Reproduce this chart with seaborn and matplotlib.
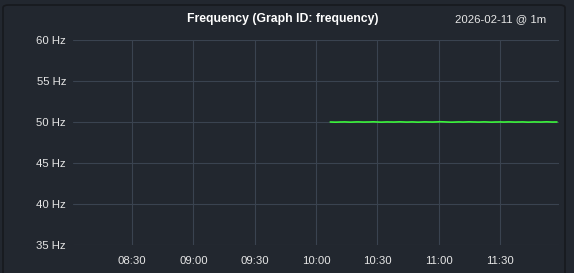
import matplotlib
matplotlib.use("Agg")
import matplotlib.pyplot as plt
from matplotlib.patches import FancyBboxPatch
import seaborn as sns
import pandas as pd

title = "Frequency (Graph ID: frequency)"
stamp = "2026-02-11 @ 1m"
y_ticks = [35, 40, 45, 50, 55, 60]
y_labels = ["35 Hz", "40 Hz", "45 Hz", "50 Hz", "55 Hz", "60 Hz"]
x_tick_labels = ["08:30", "09:00", "09:30", "10:00", "10:30", "11:00", "11:30"]
start_time = "2026-02-11 10:07"
freq_hz = [
    50.00, 49.99, 49.98, 49.98, 49.99, 50.00, 50.00, 50.01, 50.00, 49.99,
    49.98, 49.99, 50.00, 50.01, 50.01, 50.00, 49.99, 49.99, 50.00, 50.00,
    50.01, 50.02, 50.01, 50.00, 49.99, 49.98, 49.99, 50.00, 50.01, 50.00,
    50.00, 49.99, 50.00, 50.01, 50.02, 50.01, 50.00, 49.99, 49.99, 50.00,
    50.01, 50.00, 49.99, 49.98, 49.99, 50.00, 50.01, 50.01, 50.00, 50.00,
    49.99, 50.00, 50.01, 50.02, 50.03, 50.02, 50.01, 50.00, 49.99, 49.98,
    49.98, 49.99, 50.00, 50.01, 50.00, 49.99, 50.00, 50.01, 50.02, 50.01,
    50.00, 50.00, 49.99, 49.99, 50.00, 50.01, 50.01, 50.00, 49.99, 49.98,
    49.99, 50.00, 50.00, 50.01, 50.00, 49.99, 50.00, 50.01, 50.01, 50.00,
    49.99, 49.99, 50.00, 50.00, 50.01, 50.00, 49.99, 49.98, 49.99, 50.00,
    50.01, 50.00, 50.00, 49.99, 50.00, 50.01, 50.02, 50.01, 50.00, 49.99,
    50.00, 50.00,
]

df = pd.DataFrame({
    "time": pd.date_range(start_time, periods=len(freq_hz), freq="1min"),
    "hz": freq_hz,
})

bg = "#22272f"
grid_c = "#3a4350"
text_c = "#e6e6e6"

sns.set_theme(style="dark")
plt.rcParams["font.family"] = ["Liberation Sans", "DejaVu Sans"]

fig = plt.figure(figsize=(5.74, 2.73), dpi=100, facecolor=bg)
border = FancyBboxPatch((3 / 574, -0.05), 562 / 574, 1.05 - 5 / 273,
                        boxstyle="round,pad=0,rounding_size=0.01",
                        transform=fig.transFigure, facecolor="none",
                        edgecolor="#17191d", linewidth=1.2, zorder=-5)
fig.patches.append(border)

ax = fig.add_axes([73 / 574, 1 - 245 / 273, (559 - 73) / 574, (245 - 40) / 273])
ax.set_facecolor("none")

sns.lineplot(data=df, x="time", y="hz", ax=ax, color="#3cf53c", linewidth=1.2)

ax.set_ylim(35, 60)
ax.set_xlim(pd.Timestamp("2026-02-11 08:01"), pd.Timestamp("2026-02-11 11:59"))
ax.set_yticks(y_ticks)
ax.set_yticklabels(y_labels)
xt = [pd.Timestamp("2026-02-11 " + s) for s in x_tick_labels]
ax.set_xticks(xt)
ax.set_xticklabels(x_tick_labels)
ax.set_xlabel("")
ax.set_ylabel("")
for s in ax.spines.values():
    s.set_visible(False)
ax.grid(True, color=grid_c, linewidth=0.8)
ax.tick_params(axis="both", colors=text_c, labelsize=8.2, length=0)
ax.tick_params(axis="y", pad=5)
ax.tick_params(axis="x", pad=8)

fig.text(283 / 574, 1 - 19 / 273, title, color="white", fontsize=8.8,
         fontweight="bold", ha="center", va="center")
fig.text(546 / 574, 1 - 19 / 273, stamp, color=text_c, fontsize=8.2,
         ha="right", va="center")

fig.savefig("out.png", dpi=100, facecolor=bg)
